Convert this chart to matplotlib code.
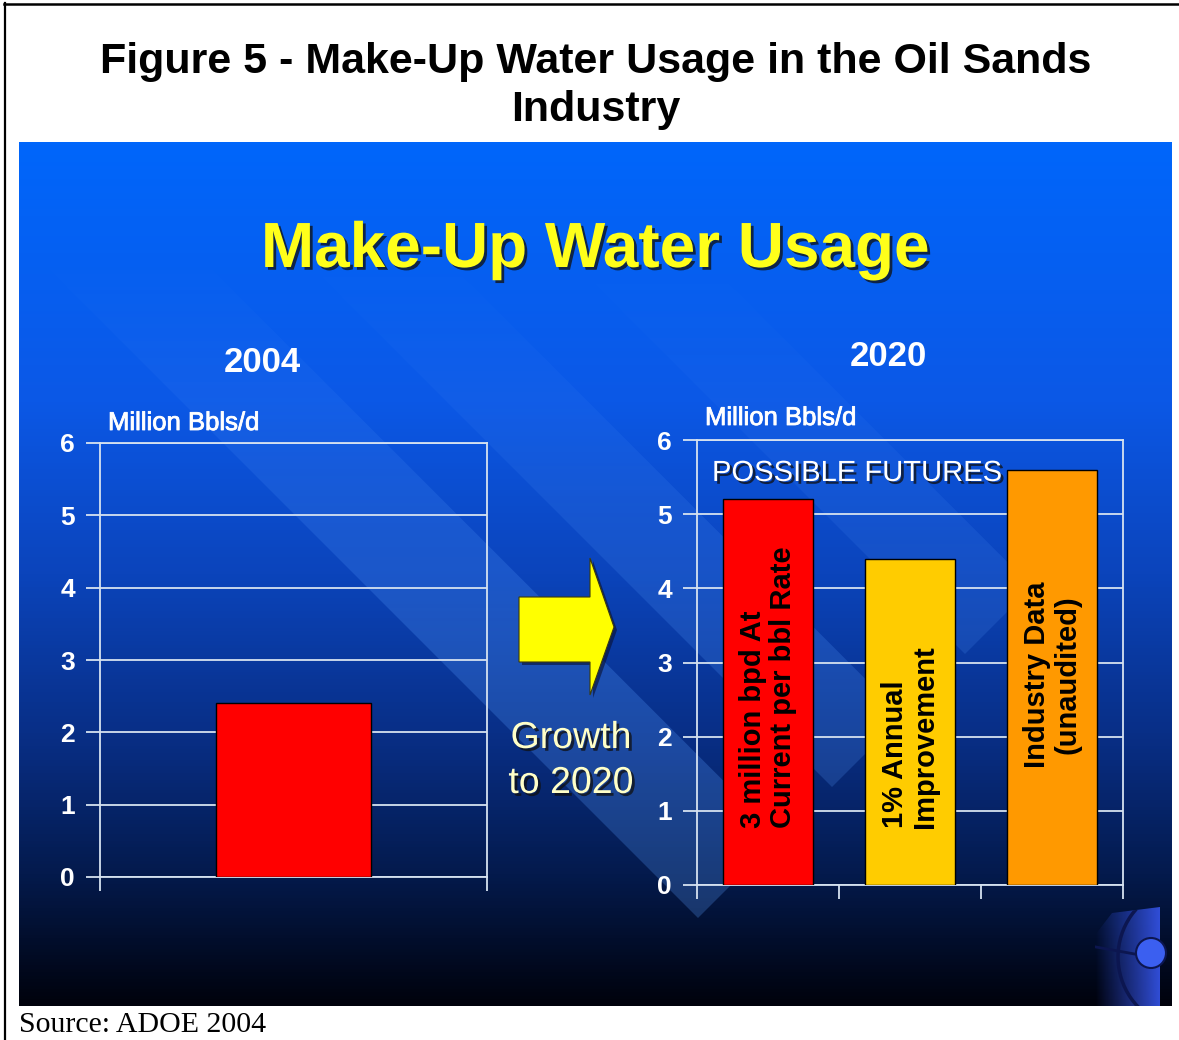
import numpy as np
import matplotlib
matplotlib.use('Agg')
from matplotlib import pyplot as plt
from matplotlib import patheffects as pe
from matplotlib.colors import LinearSegmentedColormap
from matplotlib.patches import Polygon, Rectangle, Circle, Arc

plt.rcParams['font.family'] = ['Liberation Sans', 'DejaVu Sans']

# Data
years = ['2004', '2020']
unit = 'Million Bbls/d'
usage_2004 = [2.4]
futures = ['3 million bpd At\nCurrent per bbl Rate', '1% Annual\nImprovement', 'Industry Data\n(unaudited)']
usage_2020 = [5.2, 4.4, 5.6]
y_ticks = [0, 1, 2, 3, 4, 5, 6]

# Parameters
W, H = 1179, 1040
slide = (19, 142, 1172, 1006)          # left, top, right, bottom in pixels
grid_colour = '#d6e2f0'
bar_colours = ['#ff0000', '#ffcc00', '#ff9900']
shadow = [pe.withSimplePatchShadow(offset=(2, -2), shadow_rgbFace='#101010', alpha=0.75)]


def fig_rect(x0, y0, x1, y1):
    return [x0 / W, 1 - y1 / H, (x1 - x0) / W, (y1 - y0) / H]


fig = plt.figure(figsize=(W / 100, H / 100), dpi=100)
fig.patch.set_facecolor('white')

# pixel-space layer for the slide background and decorations
bg = fig.add_axes([0, 0, 1, 1])
bg.axis('off')
ext = [slide[0], slide[2], slide[3], slide[1]]

stops = [(0.0, '#0066fb'), (0.3, '#0c58e6'), (0.5, '#0b44bb'), (0.7, '#082d82'),
         (0.85, '#041a4c'), (1.0, '#00020c')]
cmap = LinearSegmentedColormap.from_list('slide', stops)
grad = np.linspace(0, 1, 256).reshape(-1, 1)
bg.imshow(grad, cmap=cmap, extent=ext, aspect='auto', zorder=0)

clip = Rectangle((slide[0], slide[1]), slide[2] - slide[0], slide[3] - slide[1],
                 transform=bg.transData, facecolor='none', edgecolor='none')
bg.add_patch(clip)

# diagonal light streaks of the template, fading out towards the top
rows = np.linspace(0, 1, 256)
streak = np.zeros((256, 1, 4))
streak[..., 0], streak[..., 1], streak[..., 2] = 0.35, 0.62, 1.0
streak[:, 0, 3] = np.clip((rows - 0.12) / 0.45, 0, 1) * 0.26
d = np.array([1, 1]) / np.sqrt(2)
n = np.array([1, -1]) / np.sqrt(2)
for tip, w, a in [((698, 918), 115, 1.0), ((832, 787), 100, 0.8), ((965, 654), 95, 0.65)]:
    t = np.array(tip, dtype=float)
    pts = [t, t + n * w, t + n * w - d * 1600, t - d * 1600]
    band = Polygon(pts, closed=True, transform=bg.transData, facecolor='none', edgecolor='none')
    bg.add_patch(band)
    img = bg.imshow(streak, extent=ext, aspect='auto', zorder=1, alpha=a)
    img.set_clip_path(band)

# growth arrow
arrow_pts = [(519, 597), (590, 597), (590, 558), (614, 627), (590, 695), (590, 662), (519, 662)]
bg.add_patch(Polygon([(x + 3, y + 3) for x, y in arrow_pts], facecolor='#0a1030',
                     edgecolor='none', alpha=0.6, zorder=2))
bg.add_patch(Polygon(arrow_pts, facecolor='#ffff00', edgecolor='#3a3a10', lw=0.8, zorder=3))

# corner logo
logo_img = np.zeros((2, 64, 4))
logo_img[..., 0], logo_img[..., 1], logo_img[..., 2] = 0.2, 0.32, 0.88
logo_img[..., 3] = np.linspace(0.0, 0.95, 64)
logo = bg.imshow(logo_img, extent=[1095, 1160, 1006, 907], aspect='auto', zorder=2)
logo_shape = Polygon([(1112, 913), (1160, 907), (1160, 1006), (1095, 1006), (1095, 935)],
                     transform=bg.transData, facecolor='none', edgecolor='none')
bg.add_patch(logo_shape)
logo.set_clip_path(logo_shape)
logo_arc = Arc((1190, 957), 144, 144, theta1=110, theta2=250, color='#0c1650', lw=2.5, zorder=3)
bg.add_patch(logo_arc)
logo_arc.set_clip_path(logo_shape)
logo_line, = bg.plot([1096, 1140], [947, 955], color='#0c1650', lw=2, zorder=3)
logo_line.set_clip_path(logo_shape)
bg.add_patch(Circle((1151, 953), 15, facecolor='#3b5ff0', edgecolor='#0c1650', lw=1.5, zorder=4))
bg.set_xlim(0, W)
bg.set_ylim(H, 0)

# page frame
bg.plot([5, 5], [3, H], color='black', lw=1.6, zorder=5)
bg.plot([4, W], [4, 4], color='black', lw=1.8, zorder=5)

# texts
bg.text(596, 62, 'Figure 5 - Make-Up Water Usage in the Oil Sands', ha='center', va='center',
        fontsize=31, fontweight='bold', color='black')
bg.text(596, 110, 'Industry', ha='center', va='center', fontsize=31, fontweight='bold', color='black')
bg.text(19, 1025, 'Source: ADOE 2004', ha='left', va='center', fontsize=21.5,
        family=['Liberation Serif', 'DejaVu Serif'], color='black')

bg.text(595, 250, 'Make-Up Water Usage', ha='center', va='center', fontsize=46,
        fontweight='bold', color='#ffff1a', path_effects=shadow, zorder=6)
bg.text(262, 363, years[0], ha='center', va='center', fontsize=25, fontweight='bold',
        color='white', zorder=6)
bg.text(888, 356, years[1], ha='center', va='center', fontsize=25, fontweight='bold',
        color='white', zorder=6)
bg.text(108, 423, unit, ha='left', va='center', fontsize=18.5, color='white', zorder=6,
        path_effects=[pe.withStroke(linewidth=0.6, foreground='white')])
bg.text(705, 418, unit, ha='left', va='center', fontsize=18.5, color='white', zorder=6,
        path_effects=[pe.withStroke(linewidth=0.6, foreground='white')])
bg.text(712, 473, 'POSSIBLE FUTURES', ha='left', va='center', fontsize=21, color='white',
        path_effects=shadow, zorder=6)
bg.text(571, 738, 'Growth', ha='center', va='center', fontsize=27, color='#ffffc8',
        path_effects=shadow, zorder=6)
bg.text(571, 783, 'to 2020', ha='center', va='center', fontsize=27, color='#ffffc8',
        path_effects=shadow, zorder=6)


def style_axis(ax, ncat):
    ax.set_facecolor('none')
    ax.set_ylim(0, 6)
    ax.set_xlim(0, ncat)
    ax.set_yticks(y_ticks, labels=[str(v) for v in y_ticks], fontsize=19, fontweight='bold',
                  color='white')
    ax.set_xticks(range(ncat + 1), labels=[''] * (ncat + 1))
    ax.tick_params(axis='both', direction='out', length=10, width=1.3, color=grid_colour)
    ax.tick_params(axis='y', pad=8)
    ax.grid(axis='y', color=grid_colour, lw=1.3, zorder=1)
    ax.set_axisbelow(True)
    for sp in ax.spines.values():
        sp.set_color(grid_colour)
        sp.set_linewidth(1.3)


# 2004 chart
axL = fig.add_axes(fig_rect(100, 443, 487, 877))
style_axis(axL, 1)
axL.bar(np.arange(len(usage_2004)) + 0.5, usage_2004, width=0.4, color=bar_colours[0],
        edgecolor='black', lw=1, zorder=3)

# 2020 chart
axR = fig.add_axes(fig_rect(697, 440, 1123, 885))
style_axis(axR, 3)
xs = np.arange(len(usage_2020)) + 0.5
axR.bar(xs, usage_2020, width=0.63, color=bar_colours, edgecolor='black', lw=1, zorder=3)
for x, label, i in zip(xs, futures, range(3)):
    if i < 2:
        axR.text(x, 0.77, label, rotation=90, ha='center', va='bottom', multialignment='left',
                 fontsize=21, fontweight='bold', color='black', zorder=4, linespacing=1.1)
    else:
        axR.text(x, 2.84, label, rotation=90, ha='center', va='center', multialignment='center',
                 fontsize=21, fontweight='bold', color='black', zorder=4, linespacing=1.1)

fig.savefig('out.png', dpi=100)
